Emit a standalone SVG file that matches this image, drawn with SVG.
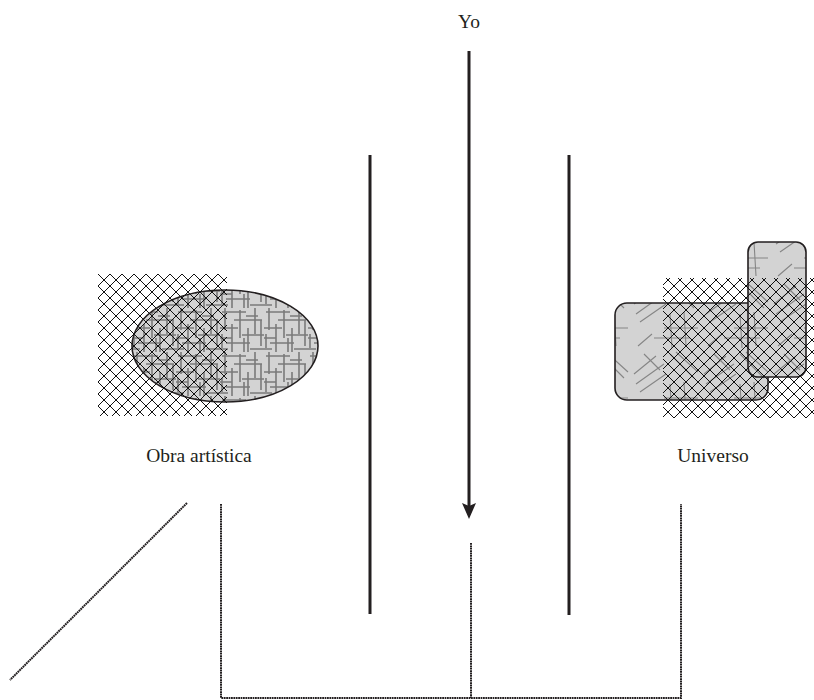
<svg xmlns="http://www.w3.org/2000/svg" width="814" height="700" viewBox="0 0 814 700">
<style>
.lbl{font-family:"Liberation Serif","DejaVu Serif",serif;font-size:19.5px;fill:#231f20;text-anchor:middle}
.solid{stroke:#231f20;stroke-width:3;fill:none}
.dot{stroke:#231f20;stroke-width:2;stroke-dasharray:1.8 0.6;fill:none}
.shape{stroke:#231f20;stroke-width:1.6}
</style>
<defs>
<pattern id="xh" patternUnits="userSpaceOnUse" width="12" height="12" x="98" y="274">
<path d="M-1,-1 L13,13 M13,-1 L-1,13" stroke="#111" stroke-width="1" fill="none"/>
</pattern>
<pattern id="grid" patternUnits="userSpaceOnUse" width="44" height="44">
<rect width="44" height="44" fill="#d3d3d3"/>
<g stroke="#7a7a7a" stroke-width="1.6">
<path d="M2,4 H26 M14,12 H42 M0,20 H18 M22,27 H44 M6,35 H30 M30,41 H44 M0,41 H8 M26,8 H38 M0,30 H12"/>
<path d="M5,0 V22 M12,16 V44 M20,2 V30 M28,20 V44 M35,0 V26 M41,12 V38 M24,30 V44 M2,26 V40"/>
</g>
</pattern>
<pattern id="str" patternUnits="userSpaceOnUse" width="70" height="70">
<rect width="70" height="70" fill="#d3d3d3"/>
<g stroke="#858585" stroke-width="1.1">
<path d="M4,24 L26,6 M6,34 L34,14 M10,42 L36,24 M40,4 L64,28 M46,2 L68,22 M34,48 L68,48 M24,58 L60,58 M8,66 L22,54 M40,34 L42,68 M54,32 L56,66 M14,4 L30,20"/>
</g>
</pattern>
</defs>

<g id="obra">
<ellipse cx="225" cy="346" rx="93" ry="56" fill="url(#grid)" class="shape"/>
<rect x="98" y="274" width="129" height="142" fill="url(#xh)"/>
<text class="lbl" x="199" y="462">Obra artística</text>
</g>

<g id="universo">
<rect x="615" y="303" width="153" height="97" rx="12" fill="url(#str)" class="shape"/>
<rect x="748" y="242" width="58" height="135" rx="10" fill="url(#str)" class="shape"/>
<rect x="663" y="278" width="151" height="140" fill="url(#xh)"/>
<text class="lbl" x="713" y="462">Universo</text>
</g>

<g id="yo">
<text class="lbl" x="469" y="28">Yo</text>
</g>

<g id="connectors">
<line class="solid" x1="469" y1="51" x2="469" y2="508"/>
<path d="M462,503 L469,506 L476,503 L469,519 Z" fill="#231f20"/>
<line class="solid" x1="370" y1="155" x2="370" y2="614"/>
<line class="solid" x1="569" y1="155" x2="569" y2="615"/>
<path class="dot" d="M221,504 V698 H681 V504"/>
<path class="dot" d="M471,543 V698"/>
<path class="dot" d="M187,503 L10,680"/>
</g>
</svg>
